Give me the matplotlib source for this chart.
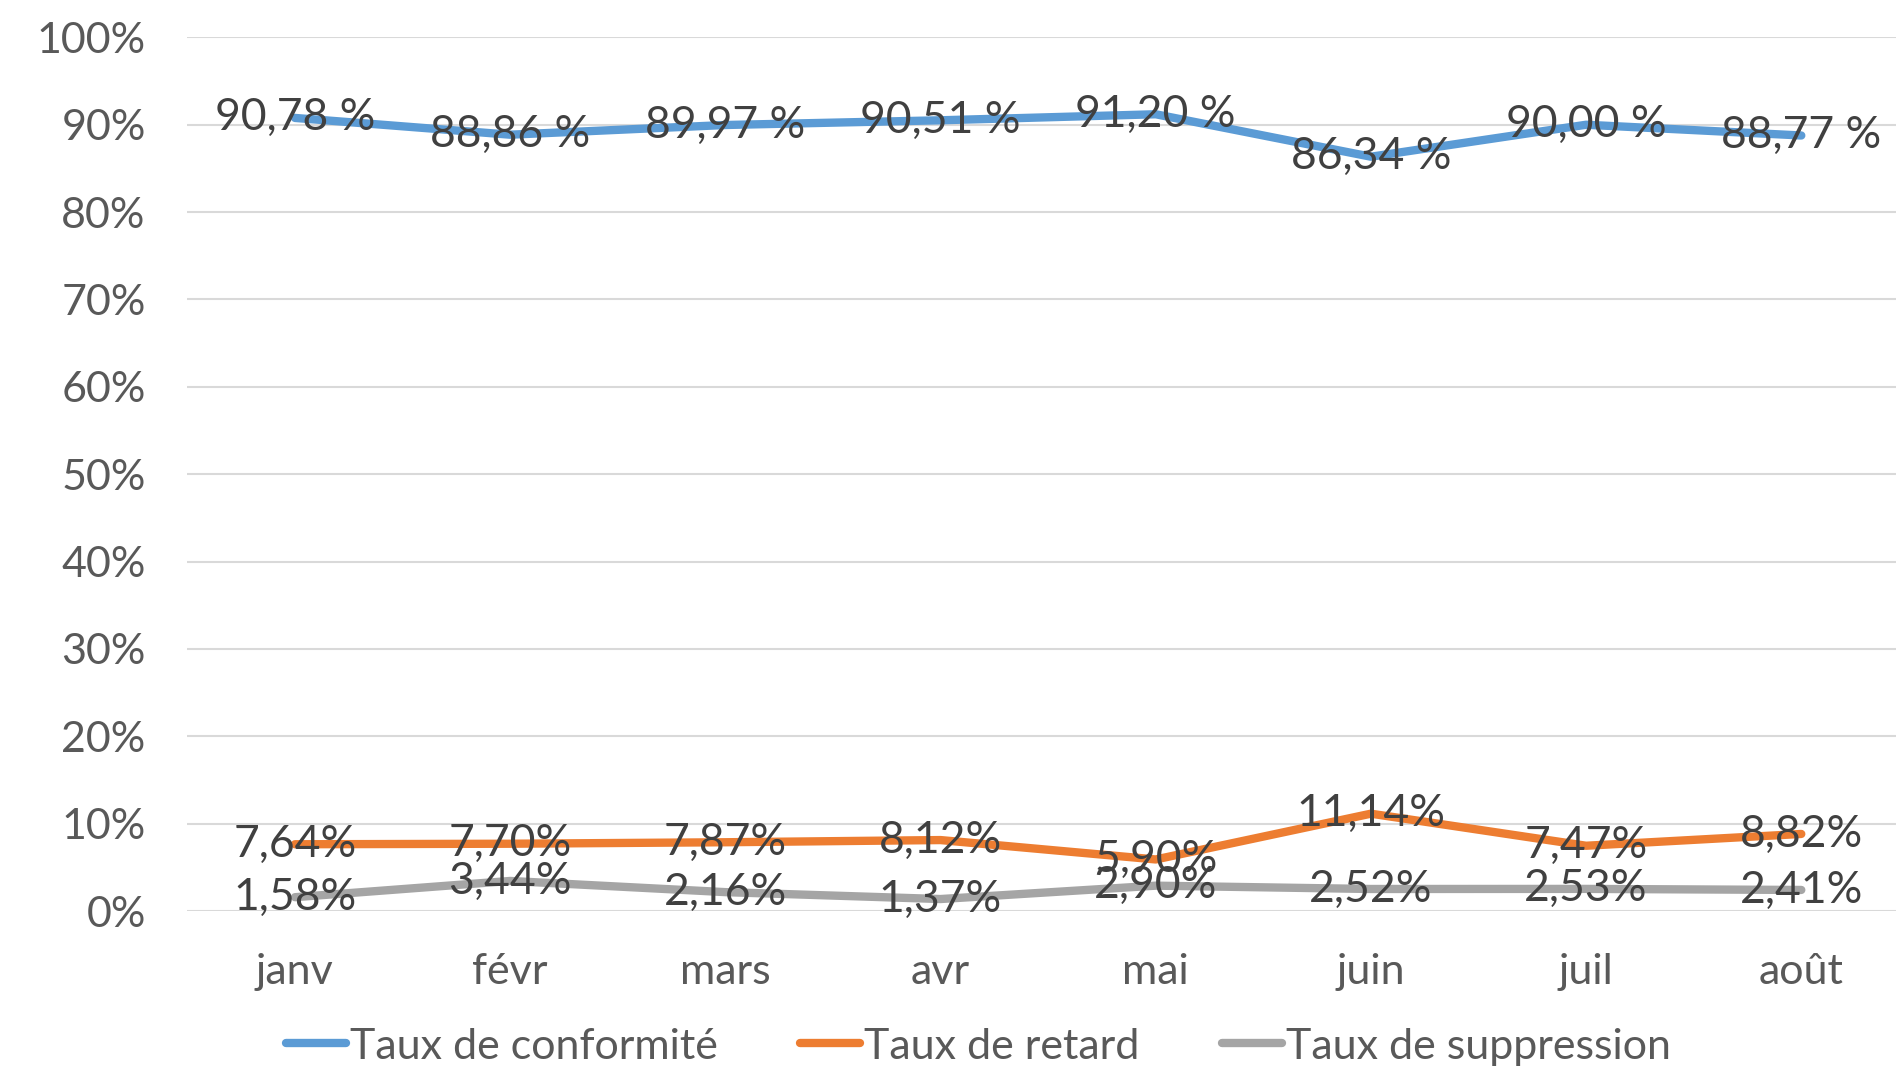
import numpy as np
import matplotlib.pyplot as plt
from matplotlib.ticker import FuncFormatter

months = ['janv', 'févr', 'mars', 'avr', 'mai', 'juin', 'juil', 'août']
conformite = [90.78, 88.86, 89.97, 90.51, 91.20, 86.34, 90.00, 88.77]
retard = [7.64, 7.70, 7.87, 8.12, 5.90, 11.14, 7.47, 8.82]
suppression = [1.58, 3.44, 2.16, 1.37, 2.90, 2.52, 2.53, 2.41]

plt.rcParams['font.family'] = ['Lato', 'DejaVu Sans']

fig = plt.figure(figsize=(18.96, 10.68), dpi=100)
ax = fig.add_axes([0.0988, 0.147, 0.908, 0.818])

x = np.arange(len(months))
series = [
    ('Taux de conformité', conformite, '#5B9BD5', ' %'),
    ('Taux de retard', retard, '#ED7D31', '%'),
    ('Taux de suppression', suppression, '#A5A5A5', '%'),
]
for name, vals, col, suf in series:
    ax.plot(x, vals, color=col, lw=6, solid_capstyle='round',
            solid_joinstyle='round', label=name)

# data labels drawn after all lines so they sit on top
for name, vals, col, suf in series:
    for xi, v in zip(x, vals):
        ax.text(xi, v, f'{v:.2f}'.replace('.', ',') + suf, ha='center',
                va='center', fontsize=32, color='#404040')

ax.set_xlim(-0.5, 7.5)
ax.set_ylim(0, 100)
ax.set_yticks(np.arange(0, 101, 10))
ax.yaxis.set_major_formatter(FuncFormatter(lambda v, p: f'{v:.0f}%'))
ax.set_xticks(x)
ax.set_xticklabels(months)
ax.tick_params(axis='both', length=0, labelsize=31, colors='#595959')
ax.tick_params(axis='x', pad=30)
ax.tick_params(axis='y', pad=30)
ax.grid(axis='y', color='#D9D9D9', lw=1.5)
ax.set_axisbelow(True)
for s in ax.spines.values():
    s.set_visible(False)

leg = fig.legend(loc='lower center', bbox_to_anchor=(0.516, -0.034), ncol=3,
                 frameon=False, fontsize=31, handlelength=1.4,
                 handletextpad=0.1, columnspacing=1.9)
for t in leg.get_texts():
    t.set_color('#595959')

fig.savefig('out.png', dpi=100)
